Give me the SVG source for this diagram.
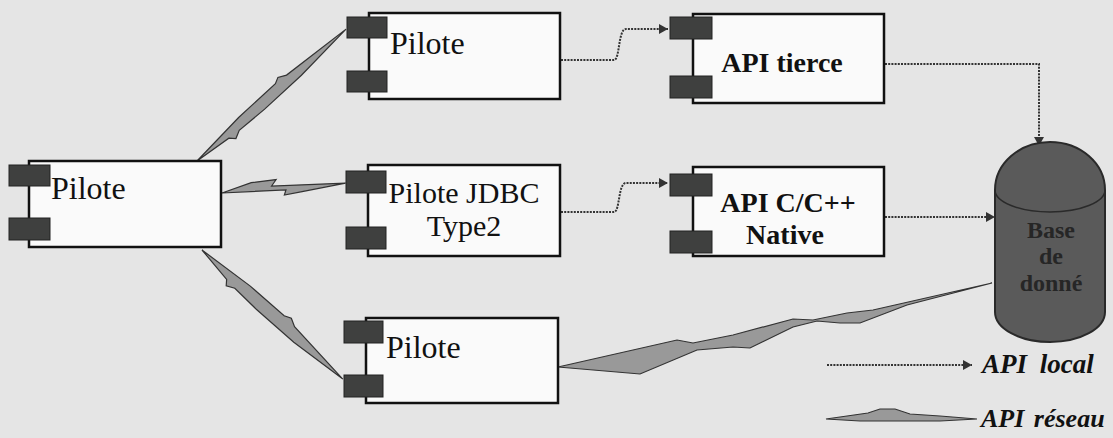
<svg xmlns="http://www.w3.org/2000/svg" width="1113" height="438" viewBox="0 0 1113 438">
<defs>
<style>
.bg{fill:#e5e5e5}
.box{fill:#fafafa;stroke:#111;stroke-width:2.5}
.port{fill:#3f403f;stroke:#222;stroke-width:1}
.lbl{font-family:"Liberation Serif","Times New Roman",serif;font-size:30px;fill:#111}
.big{font-size:32px}
.bold{font-weight:bold;font-size:28px}
.dot{fill:none;stroke:#333;stroke-width:2;stroke-dasharray:2 1.2}
.bolt{fill:#999;stroke:#333;stroke-width:1.2;stroke-linejoin:miter}
.db{fill:#5a5a5a;stroke:#2a2a2a;stroke-width:2}
.dbt{font-family:"Liberation Serif","Times New Roman",serif;font-weight:bold;font-size:24px;fill:#262626;text-anchor:middle}
.leg{font-family:"Liberation Serif","Times New Roman",serif;font-weight:bold;font-style:italic;font-size:27px;fill:#111;word-spacing:6px}
.leg2{font-size:26px;word-spacing:3px}
</style>
<marker id="arr" markerUnits="userSpaceOnUse" markerWidth="9" markerHeight="10" refX="9" refY="5" orient="auto">
<path d="M0,0 L9,5 L0,10 Z" fill="#333"/>
</marker>
</defs>
<rect class="bg" x="0" y="0" width="1113" height="438"/>

<g id="connectors">
<polygon class="bolt" points="0,0 60,-5 110,-6 116,-9 124,-5 199,0 135,5 85,6 52,5 44,9 39,4" transform="translate(197,161) rotate(-41.5)"/>
<polygon class="bolt" points="0,0 30,-8 55,-9 50,-3 124,0 80,5 62,7 64,2" transform="translate(222,193) rotate(-4.6)"/>
<polygon class="bolt" points="0,0 60,-6 105,-7 112,-10 120,-6 191,0 130,6 80,7 50,6 42,10 38,5" transform="translate(202,250) rotate(42.5)"/>
<polygon class="bolt" points="558,367 677,340 693,343 733,335 793,319 813,320 847,313 873,310 992,283 907,305 860,323 840,323 817,321 793,327 750,348 733,347 697,350 640,374"/>
<path class="dot" d="M561,60 H614 C620,60 618,29 626,29 H668" marker-end="url(#arr)"/>
<path class="dot" d="M561,212 H614 C620,212 618,183 626,183 H668" marker-end="url(#arr)"/>
<path class="dot" d="M885,64 H1039 V146" marker-end="url(#arr)"/>
<path class="dot" d="M885,217 H995" marker-end="url(#arr)"/>
</g>

<g id="n_pilote_client">
<rect class="box" x="29" y="161" width="192" height="86"/>
<rect class="port" x="9" y="165" width="41" height="21"/>
<rect class="port" x="9" y="218" width="41" height="22"/>
<text class="lbl big" x="51" y="199">Pilote</text>
</g>

<g id="n_pilote_top">
<rect class="box" x="369" y="13" width="191" height="86"/>
<rect class="port" x="347" y="17" width="40" height="21"/>
<rect class="port" x="347" y="71" width="40" height="21"/>
<text class="lbl big" x="390" y="54">Pilote</text>
</g>

<g id="n_pilote_jdbc">
<rect class="box" x="368" y="165" width="192" height="91"/>
<rect class="port" x="346" y="171" width="40" height="22"/>
<rect class="port" x="346" y="227" width="40" height="22"/>
<text class="lbl" x="464" y="203" text-anchor="middle">Pilote JDBC</text>
<text class="lbl" x="464" y="236" text-anchor="middle">Type2</text>
</g>

<g id="n_pilote_bottom">
<rect class="box" x="366" y="318" width="192" height="85"/>
<rect class="port" x="344" y="321" width="39" height="22"/>
<rect class="port" x="344" y="375" width="39" height="22"/>
<text class="lbl big" x="386" y="358">Pilote</text>
</g>

<g id="n_api_tierce">
<rect class="box" x="693" y="14" width="191" height="89"/>
<rect class="port" x="670" y="17" width="42" height="22"/>
<rect class="port" x="670" y="76" width="42" height="22"/>
<text class="lbl bold" x="782" y="72" text-anchor="middle">API tierce</text>
</g>

<g id="n_api_c">
<rect class="box" x="693" y="167" width="191" height="89"/>
<rect class="port" x="670" y="174" width="42" height="22"/>
<rect class="port" x="670" y="231" width="42" height="22"/>
<text class="lbl bold" x="788" y="212" text-anchor="middle">API C/C++</text>
<text class="lbl bold" x="785" y="244" text-anchor="middle">Native</text>
</g>

<g id="n_db">
<path class="db" d="M995,190 A55,48 0 0 1 1105,190 L1105,312 A55,30 0 0 1 995,312 Z"/>
<path d="M995,190 A55,22 0 0 0 1105,190" fill="none" stroke="#2a2a2a" stroke-width="1.5"/>
<text class="dbt" x="1051" y="238">Base</text>
<text class="dbt" x="1051" y="264">de</text>
<text class="dbt" x="1051" y="291">donné</text>
</g>

<g id="legend">
<path class="dot" d="M827,365 H972" marker-end="url(#arr)"/>
<text class="leg" x="982" y="373">API local</text>
<polygon class="bolt" points="826,419 868,413 880,409 895,409 910,414 940,416 977,419 940,421 900,421 860,421"/>
<text class="leg leg2" x="981" y="427">API réseau</text>
</g>
</svg>
